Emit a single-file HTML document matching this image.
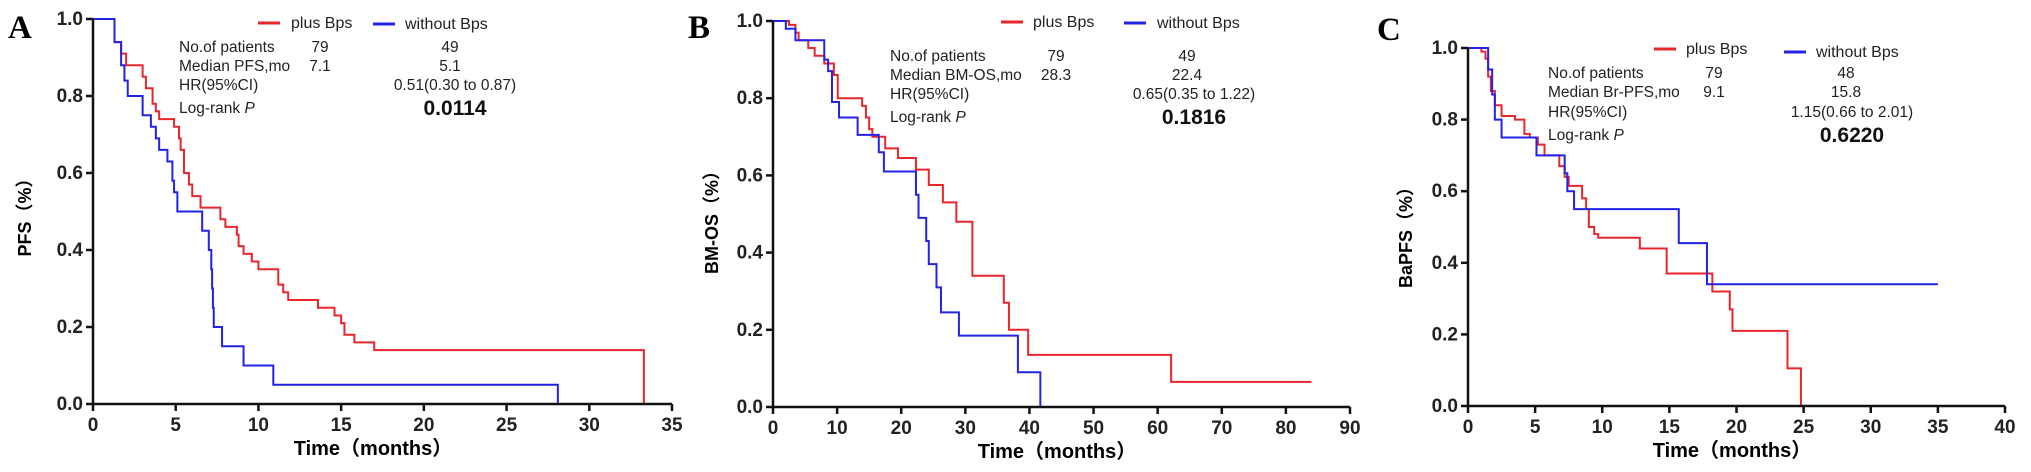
<!DOCTYPE html>
<html><head><meta charset="utf-8"><style>
body{margin:0;background:#fff;}
svg{display:block;font-family:"Liberation Sans","Noto Sans CJK SC",sans-serif;}
</style></head><body>
<svg id="c" width="2031" height="472" viewBox="0 0 2031 472"></svg>
<script>
// Panel A (PFS)
const aRedT=[0,1.3,1.7,2.0,3.0,3.2,3.6,3.8,4.0,4.9,5.2,5.3,5.5,5.8,6.0,6.5,7.7,8.0,8.7,8.8,9.1,9.6,10.0,11.2,11.5,11.8,13.6,14.6,15.0,15.2,15.8,17.0,33.3];
const aRedS=[1,0.94,0.91,0.88,0.85,0.82,0.78,0.76,0.74,0.72,0.69,0.66,0.60,0.57,0.54,0.51,0.48,0.46,0.44,0.41,0.39,0.37,0.35,0.31,0.29,0.27,0.25,0.23,0.21,0.18,0.16,0.14,0];
const aRedEnd=33.3;
const aBlueT=[0,1.3,1.7,1.9,2.1,3.0,3.5,3.8,4.0,4.5,4.8,4.9,5.1,6.6,7.0,7.15,7.2,7.25,7.3,7.8,9.1,10.9,28.1];
const aBlueS=[1,0.94,0.88,0.84,0.80,0.75,0.72,0.69,0.66,0.63,0.58,0.55,0.50,0.45,0.40,0.35,0.30,0.25,0.20,0.15,0.10,0.05,0];
const aBlueEnd=28.1;
// Panel B (BM-OS)
const bRedT=[0,2.5,3.5,4.0,5.5,6.5,8.0,9.5,10.1,13.9,14.5,15.0,15.5,17.5,19.5,22.3,24.3,26.5,28.6,31.1,36.0,36.8,39.8,62.1];
const bRedS=[1,0.99,0.97,0.95,0.93,0.91,0.89,0.86,0.80,0.78,0.75,0.72,0.70,0.67,0.645,0.615,0.575,0.53,0.48,0.34,0.27,0.20,0.135,0.065];
const bRedEnd=84;
const bBlueT=[0,2.0,3.5,8.0,8.6,9.2,10.3,13.2,16.5,17.3,22.3,22.7,23.9,24.3,25.5,26.2,29.0,38.2,41.7];
const bBlueS=[1,0.98,0.95,0.90,0.87,0.79,0.75,0.705,0.66,0.61,0.55,0.49,0.43,0.37,0.31,0.245,0.185,0.09,0];
const bBlueEnd=41.7;
// Panel C (BaPFS)
const cRedT=[0,1.0,1.3,1.5,1.7,2.0,2.5,3.5,4.2,4.6,5.2,5.7,6.8,7.2,7.5,8.5,8.8,9.0,9.4,9.7,12.8,14.8,18.2,19.5,19.7,23.8,24.8];
const cRedS=[1,0.99,0.97,0.92,0.88,0.84,0.81,0.80,0.76,0.75,0.73,0.70,0.67,0.64,0.615,0.58,0.55,0.50,0.48,0.47,0.44,0.37,0.32,0.27,0.21,0.105,0];
const cRedEnd=24.8;
const cBlueT=[0,1.5,1.8,2.0,2.5,5.1,7.2,7.4,7.9,15.7,17.8];
const cBlueS=[1,0.94,0.87,0.80,0.75,0.70,0.65,0.60,0.55,0.455,0.34];
const cBlueEnd=35;
const aXTicks=[0,5,10,15,20,25,30,35];
const bXTicks=[0,10,20,30,40,50,60,70,80,90];
const cXTicks=[0,5,10,15,20,25,30,35,40];
const yTicks=[0,0.2,0.4,0.6,0.8,1.0];

const NS="http://www.w3.org/2000/svg";
const svg=document.getElementById('c');
function mk(tag,attrs,parent,txt){const e=document.createElementNS(NS,tag);for(const k in attrs)e.setAttribute(k,attrs[k]);if(txt!==undefined)e.textContent=txt;(parent||svg).appendChild(e);return e;}

const panels=[
 {id:'a',letter:'A',lx:8,ly:38,x0:93,x1:672,y0:404,y1:19,xmax:35,xt:aXTicks,ylab:'PFS（%）',ylx:26,yly:213,tlx:373,
  series:[[aRedT,aRedS,aRedEnd,'#e8262b','plus'],[aBlueT,aBlueS,aBlueEnd,'#2323e6','without']],
  leg:{ry:23,r1:258,rt:291,by:24,b1:373,bt:405},rows:[47,66,85,108],c1:179,c2:320,c3:450,hr:455,
  t:['No.of patients','Median PFS,mo','HR(95%CI)','Log-rank '],v2:['79','7.1'],v3:['49','5.1'],hrv:'0.51(0.30 to 0.87)',p:'0.0114'},
 {id:'b',letter:'B',lx:688,ly:38,x0:773,x1:1350,y0:407,y1:21,xmax:90,xt:bXTicks,ylab:'BM-OS（%）',ylx:713,yly:218,tlx:1057,
  series:[[bRedT,bRedS,bRedEnd,'#e8262b','plus'],[bBlueT,bBlueS,bBlueEnd,'#2323e6','without']],
  leg:{ry:22,r1:1001,rt:1033,by:23,b1:1124,bt:1157},rows:[56,75,94,117],c1:890,c2:1056,c3:1187,hr:1194,
  t:['No.of patients','Median BM-OS,mo','HR(95%CI)','Log-rank '],v2:['79','28.3'],v3:['49','22.4'],hrv:'0.65(0.35 to 1.22)',p:'0.1816'},
 {id:'c',letter:'C',lx:1377,ly:40,x0:1468,x1:2005,y0:406,y1:48,xmax:40,xt:cXTicks,ylab:'BaPFS（%）',ylx:1407,yly:233,tlx:1732,
  series:[[cRedT,cRedS,cRedEnd,'#e8262b','plus'],[cBlueT,cBlueS,cBlueEnd,'#2323e6','without']],
  leg:{ry:49,r1:1654,rt:1686,by:52,b1:1784,bt:1816},rows:[73,92,112,135],c1:1548,c2:1714,c3:1846,hr:1852,
  t:['No.of patients','Median Br-PFS,mo','HR(95%CI)','Log-rank '],v2:['79','9.1'],v3:['48','15.8'],hrv:'1.15(0.66 to 2.01)',p:'0.6220'}
];

panels.forEach(P=>{
 const g=mk('g',{});
 
 
 const X=v=>P.x0+(P.x1-P.x0)*v/P.xmax;
 const Y=v=>P.y0+(P.y1-P.y0)*v;
 const L=mk('text',{x:P.lx,y:P.ly,'font-family':'Liberation Serif,serif','font-weight':'bold','font-size':33},g,P.letter);
 
 
 P.series.forEach(s=>{
  const [T,S,end,col,nm]=s;
  let d='M'+X(T[0])+','+Y(S[0]);
  for(let i=1;i<T.length;i++){d+=' H'+X(T[i])+' V'+Y(S[i]);}
  d+=' H'+X(end);
  const p=mk('path',{d:d,fill:'none',stroke:col,'stroke-width':2},g);
  
  
 });
 const ax=mk('path',{d:`M${P.x0},${P.y1} V${P.y0} H${P.x1}`,fill:'none',stroke:'#111','stroke-width':2.5},g);
 
 
 P.xt.forEach(t=>{
  mk('line',{x1:X(t),x2:X(t),y1:P.y0,y2:P.y0+7,stroke:'#111','stroke-width':2.5},g);
  const tx=mk('text',{x:X(t),y:P.y0+27,'text-anchor':'middle','font-size':19,'font-weight':'bold',fill:'#222'},g,String(t));
  
  
 });
 yTicks.forEach(t=>{
  mk('line',{x1:P.x0-7,x2:P.x0,y1:Y(t),y2:Y(t),stroke:'#111','stroke-width':2.5},g);
  const tx=mk('text',{x:P.x0-10,y:Y(t)+6,'text-anchor':'end','font-size':19,'font-weight':'bold',fill:'#222'},g,t.toFixed(1));
  
  
 });
 const yl=mk('text',{x:P.ylx,y:P.yly,'text-anchor':'middle','font-size':18,'font-weight':'bold',transform:`rotate(-90 ${P.ylx} ${P.yly})`,'dominant-baseline':'middle'},g,P.ylab);
 
 
 const xl=mk('text',{x:P.tlx,y:P.y0+51,'text-anchor':'middle','font-size':20,'font-weight':'bold'},g,'Time（months）');
 
 
 const lg=P.leg;
 mk('line',{x1:lg.r1,x2:lg.r1+22,y1:lg.ry,y2:lg.ry,stroke:'#e8262b','stroke-width':3},g);
 const t1=mk('text',{x:lg.rt,y:lg.ry+5,'font-size':16,fill:'#222'},g,'plus Bps');
 
 
 mk('line',{x1:lg.b1,x2:lg.b1+22,y1:lg.by,y2:lg.by,stroke:'#2323e6','stroke-width':3},g);
 const t2=mk('text',{x:lg.bt,y:lg.by+5,'font-size':16,fill:'#222'},g,'without Bps');
 
 
 P.t.forEach((s,i)=>{
  const e=mk('text',{x:P.c1,y:P.rows[i]+5,'font-size':15.5,fill:'#222'},g,s);
  if(i===3){mk('tspan',{'font-style':'italic'},e,'P');}
  
  
 });
 [0,1].forEach(i=>{
  const a=mk('text',{x:P.c2,y:P.rows[i]+5,'text-anchor':'middle','font-size':15.5,fill:'#222'},g,P.v2[i]);
  
  
  const b=mk('text',{x:P.c3,y:P.rows[i]+5,'text-anchor':'middle','font-size':15.5,fill:'#222'},g,P.v3[i]);
  
  
 });
 const h=mk('text',{x:P.hr,y:P.rows[2]+5,'text-anchor':'middle','font-size':15.5,fill:'#222'},g,P.hrv);
 
 
 const pv=mk('text',{x:P.hr,y:P.rows[3]+7,'text-anchor':'middle','font-size':21,'font-weight':'bold',fill:'#111'},g,P.p);
 
 
});
</script>
</body></html>
